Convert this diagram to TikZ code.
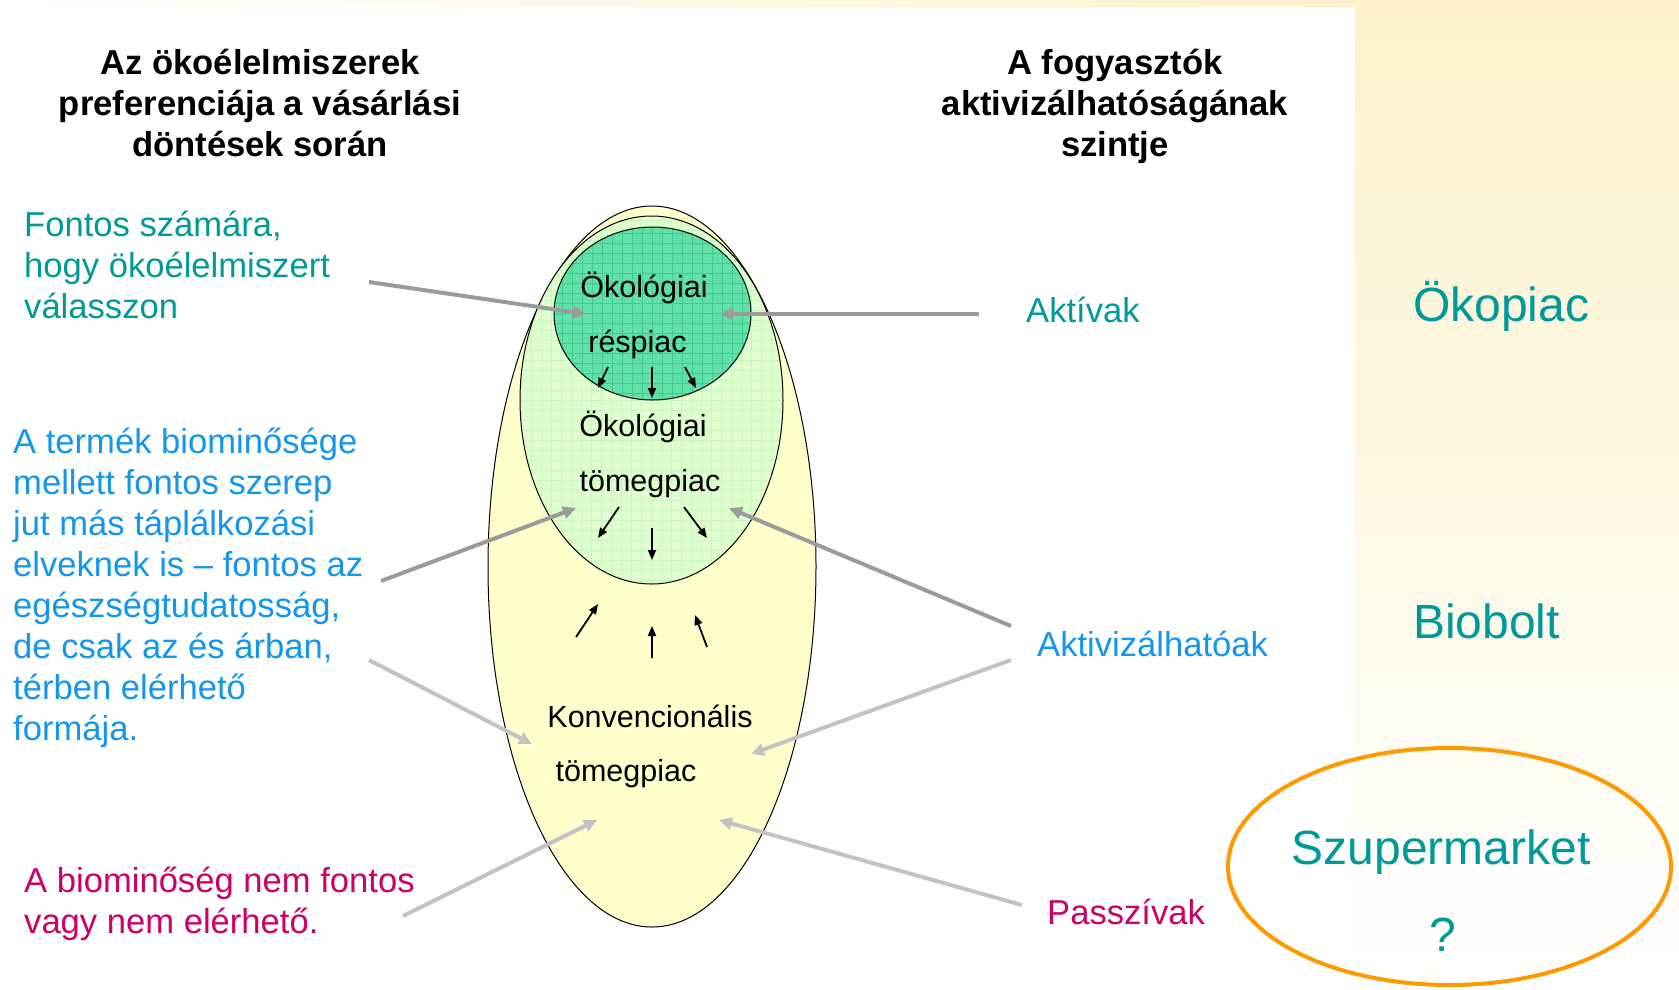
\documentclass[tikz,border=0pt]{standalone}
\usepackage{fontspec}
\setmainfont{Liberation Sans}
\usetikzlibrary{shapes.geometric,arrows.meta}
\definecolor{bgyel}{RGB}{253,242,204}
\definecolor{teal1}{RGB}{0,153,153}
\definecolor{blue1}{RGB}{20,150,235}
\definecolor{mag1}{RGB}{204,0,102}
\definecolor{orange1}{RGB}{255,153,0}
\definecolor{yelfill}{RGB}{255,255,204}
\definecolor{lgreen}{RGB}{224,255,206}
\definecolor{lgrid}{RGB}{200,244,190}
\definecolor{dgreen}{RGB}{98,224,170}
\definecolor{dgrid}{RGB}{62,202,146}
\definecolor{gdark}{RGB}{155,155,155}
\definecolor{glight}{RGB}{195,195,195}
\begin{document}
\begin{tikzpicture}[x=1pt,y=-1pt,
  hdr/.style={font=\bfseries\fontsize{34.6}{41}\selectfont, align=center, anchor=base, inner sep=0},
  lbl/.style={font=\fontsize{34.6}{41}\selectfont, align=left, anchor=base west, inner sep=0},
  mkt/.style={font=\fontsize{30.5}{36}\selectfont, anchor=base, inner sep=0},
  big/.style={font=\fontsize{48}{56}\selectfont, text=teal1, inner sep=0},
  garrow/.style={line width=4pt, -{Triangle[length=13pt,width=12pt]}},
  barrow/.style={line width=1.8pt, -{Triangle[length=10pt,width=8pt]}},
  market/.style={ellipse, draw=black, line width=1pt, inner sep=0},
]
\useasboundingbox (0,0) rectangle (1679,989);
% background
\shade[top color=bgyel, bottom color=white] (1355,0) rectangle (1679,989);
\shade[left color=white, right color=bgyel] (0,0) rectangle (1355,6);

% headers (anchored at the baseline of their last line)
\node[hdr] (h1) at (260,156) {Az ökoélelmiszerek\\preferenciája a vásárlási\\döntések során};
\node[hdr] (h2) at (1115,156) {A fogyasztók\\aktivizálhatóságának\\szintje};

% ellipses
\node[market, fill=yelfill, minimum width=328pt, minimum height=721pt] (konv) at (652,566.5) {};
\node[market, fill=lgreen, minimum width=263pt, minimum height=368pt,
  path picture={\draw[lgrid, line width=0.6pt, step=10pt] (path picture bounding box.south west) grid (path picture bounding box.north east);}] (tomeg) at (651.5,400) {};
\node[market, fill=dgreen, minimum width=197pt, minimum height=173pt,
  path picture={\draw[dgrid, line width=0.6pt, step=10pt] (path picture bounding box.south west) grid (path picture bounding box.north east);}] (res) at (652.5,313.5) {};

% ellipse texts
\node[mkt] (t1) at (644,297) {Ökológiai};
\node[mkt] (t2) at (637.5,352) {réspiac};
\node[mkt] (t3) at (643,436) {Ökológiai};
\node[mkt] (t4) at (650,491) {tömegpiac};
\node[mkt] (t5) at (650,727) {Konvencionális};
\node[mkt] (t6) at (626,781) {tömegpiac};

% left texts (anchored at the baseline of their last line)
\node[lbl, text=teal1] (l1) at (24,318) {Fontos számára,\\hogy ökoélelmiszert\\válasszon};
\node[lbl, text=blue1] (l2) at (13,740) {A termék biominősége\\mellett fontos szerep\\jut más táplálkozási\\elveknek is – fontos az\\egészségtudatosság,\\de csak az és árban,\\térben elérhető\\formája.};
\node[lbl, text=mag1] (l3) at (24,933) {A biominőség nem fontos\\vagy nem elérhető.};

% right texts
\node[lbl, text=teal1] (r1) at (1026,322) {Aktívak};
\node[lbl, text=blue1] (r2) at (1037,656) {Aktivizálhatóak};
\node[lbl, text=mag1] (r3) at (1047,924) {Passzívak};

% far right
\node[big, anchor=base west] (s1) at (1413,321) {Ökopiac};
\node[big, anchor=base west] (s2) at (1413,638) {Biobolt};
\node[ellipse, draw=orange1, line width=4pt, minimum width=443pt, minimum height=237pt, inner sep=0] (sm) at (1449.5,866.5) {};
\node[big, anchor=base] (s3) at (1441,864) {Szupermarket};
\node[big, anchor=base] (s4) at (1443,951) {?};

% arrow coordinates
\coordinate (a1s) at (369,282); \coordinate (a1e) at (586,314);
\coordinate (a2s) at (979,314); \coordinate (a2e) at (720,314);
\coordinate (a3s) at (381,581); \coordinate (a3e) at (576,508);
\coordinate (a4s) at (1011,626); \coordinate (a4e) at (729,508);
\coordinate (a5s) at (369,660); \coordinate (a5e) at (532,744);
\coordinate (a6s) at (1011,660); \coordinate (a6e) at (751,754);
\coordinate (a7s) at (403,916); \coordinate (a7e) at (597,820);
\coordinate (a8s) at (1022,905); \coordinate (a8e) at (719,820);

\draw[garrow, gdark] (a1s) -- (a1e);
\draw[garrow, gdark] (a2s) -- (a2e);
\draw[garrow, gdark] (a3s) -- (a3e);
\draw[garrow, gdark] (a4s) -- (a4e);
\draw[garrow, glight] (a5s) -- (a5e);
\draw[garrow, glight] (a6s) -- (a6e);
\draw[garrow, glight] (a7s) -- (a7e);
\draw[garrow, glight] (a8s) -- (a8e);

% black arrows
\coordinate (b1s) at (608,367); \coordinate (b1e) at (598,388);
\coordinate (b2s) at (652,367); \coordinate (b2e) at (652,398);
\coordinate (b3s) at (685,367); \coordinate (b3e) at (696,388);
\coordinate (b4s) at (619,507); \coordinate (b4e) at (598,538);
\coordinate (b5s) at (652,528); \coordinate (b5e) at (652,560);
\coordinate (b6s) at (684,507); \coordinate (b6e) at (707,538);
\coordinate (b7s) at (576,637); \coordinate (b7e) at (598,604);
\coordinate (b8s) at (652,658); \coordinate (b8e) at (652,626);
\coordinate (b9s) at (707,647); \coordinate (b9e) at (695,615);
\foreach \i in {1,...,9} {\draw[barrow] (b\i s) -- (b\i e);}
\end{tikzpicture}
\end{document}
